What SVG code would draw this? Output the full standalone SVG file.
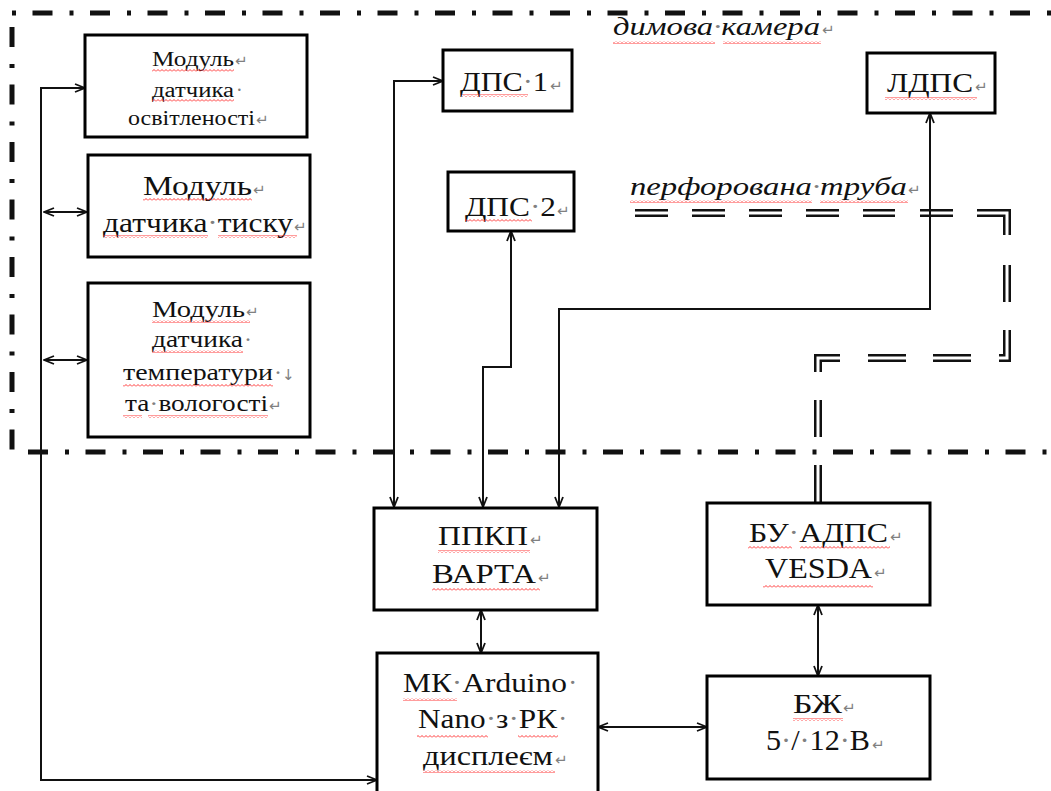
<svg xmlns="http://www.w3.org/2000/svg" width="1051" height="791" viewBox="0 0 1051 791">
<style>
.box{fill:#fff;stroke:#000;stroke-width:3}
.t{font-family:"Liberation Serif","DejaVu Serif","Times New Roman",serif;fill:#111}
.it{font-family:"Liberation Serif","DejaVu Serif","Times New Roman",serif;font-style:italic;fill:#111}
.m{fill:#808080;font-family:"DejaVu Sans",sans-serif;font-size:15px}
.d{fill:#808080}
.c{fill:none;stroke:#111;stroke-width:2}
.bd{fill:none;stroke:#111;stroke-width:5}
.po{fill:none;stroke:#111;stroke-width:8;stroke-linejoin:miter}
.pi{fill:none;stroke:#fff;stroke-width:3;stroke-linejoin:miter}
.sq{fill:url(#sqp)}
</style>
<defs>
<marker id="a" viewBox="0 0 12 10" refX="11" refY="5" markerWidth="12" markerHeight="10" markerUnits="userSpaceOnUse" orient="auto-start-reverse">
<path d="M1,1 L11,5 L1,9" fill="none" stroke="#111" stroke-width="1.8"/>
</marker>
<pattern id="sqp" width="4" height="3" patternUnits="userSpaceOnUse">
<path d="M0,2.5 L2,0.5 L4,2.5" fill="none" stroke="#f22" stroke-width="0.9"/>
</pattern>
</defs>
<rect width="1051" height="791" fill="#fff"/>

<g id="smoke-chamber-border">
<path class="bd" d="M12,13 H1051" stroke-dasharray="4 16.5 20 17"/>
<path class="bd" d="M12,27 V450" stroke-dasharray="20 17 4 16.5"/>
<path class="bd" d="M28,452 H1051" stroke-dasharray="20 17 4 16.5"/>
</g>

<g id="perforated-pipe">
<path class="po" d="M635,213H668M692,213H725M749,213H782M806,213H839M863,213H895M920,213H953M977,213H1007V235M1007,265V302M1007,330V358H999M971,358H933M906,358H868M840,358H818V372M818,400V437M818,465V503"/>
<path class="pi" d="M635,213H668M692,213H725M749,213H782M806,213H839M863,213H895M920,213H953M977,213H1007V235M1007,265V302M1007,330V358H999M971,358H933M906,358H868M840,358H818V372M818,400V437M818,465V503"/>
</g>

<g id="connectors">
<path class="c" d="M85,88 H41 V780 H377" marker-start="url(#a)" marker-end="url(#a)"/>
<path class="c" d="M44,212 H87" marker-start="url(#a)" marker-end="url(#a)"/>
<path class="c" d="M44,360 H87" marker-start="url(#a)" marker-end="url(#a)"/>
<path class="c" d="M443,81 H394 V507" marker-start="url(#a)" marker-end="url(#a)"/>
<path class="c" d="M511,231 V367 H483 V507" marker-start="url(#a)" marker-end="url(#a)"/>
<path class="c" d="M930,113 V309 H559 V507" marker-start="url(#a)" marker-end="url(#a)"/>
<path class="c" d="M481,610 V653" marker-start="url(#a)" marker-end="url(#a)"/>
<path class="c" d="M598,727 H707" marker-start="url(#a)" marker-end="url(#a)"/>
<path class="c" d="M818,605 V676" marker-start="url(#a)" marker-end="url(#a)"/>
</g>

<g id="label-chamber">
<text class="it" x="613" y="35" font-size="26" textLength="207" lengthAdjust="spacingAndGlyphs">димова<tspan class="d">·</tspan>камера</text>
<text class="m" x="822" y="35">↵</text>
<rect class="sq" x="613" y="41" width="102" height="3"/><rect class="sq" x="723" y="41" width="98" height="3"/>
</g>
<g id="label-pipe">
<text class="it" x="630" y="195" font-size="26" textLength="277" lengthAdjust="spacingAndGlyphs">перфорована<tspan class="d">·</tspan>труба</text>
<text class="m" x="908" y="195" font-size="11">↵</text>
<rect class="sq" x="630" y="200" width="182" height="3"/><rect class="sq" x="820" y="200" width="88" height="3"/>
</g>

<g id="light-sensor">
<rect class="box" x="85" y="35" width="222" height="102"/>
<text class="t" x="152" y="66" font-size="20" textLength="82" lengthAdjust="spacingAndGlyphs">Модуль</text>
<text class="m" x="235" y="66">↵</text>
<text class="t" x="152" y="97" font-size="20" textLength="82" lengthAdjust="spacingAndGlyphs">датчика</text>
<text class="t d" x="236" y="97" font-size="20">·</text>
<text class="t" x="128" y="125" font-size="20" textLength="127" lengthAdjust="spacingAndGlyphs">освітленості</text>
<text class="m" x="256" y="125">↵</text>
<rect class="sq" x="152" y="69" width="82" height="3"/><rect class="sq" x="152" y="99" width="82" height="3"/>
</g>

<g id="pressure-sensor">
<rect class="box" x="88" y="155" width="222" height="102"/>
<text class="t" x="143" y="195" font-size="27" textLength="109" lengthAdjust="spacingAndGlyphs">Модуль</text>
<text class="m" x="253" y="195">↵</text>
<text class="t" x="103" y="232" font-size="27" textLength="190" lengthAdjust="spacingAndGlyphs">датчика<tspan class="d">·</tspan>тиску</text>
<text class="m" x="294" y="232">↵</text>
<rect class="sq" x="143" y="198" width="109" height="3"/><rect class="sq" x="103" y="235" width="105" height="3"/><rect class="sq" x="218" y="235" width="79" height="3"/>
</g>

<g id="temp-humidity-sensor">
<rect class="box" x="88" y="283" width="222" height="154"/>
<text class="t" x="152" y="317" font-size="24" textLength="93" lengthAdjust="spacingAndGlyphs">Модуль</text>
<text class="m" x="246" y="317">↵</text>
<text class="t" x="152" y="347" font-size="24" textLength="91" lengthAdjust="spacingAndGlyphs">датчика</text>
<text class="t d" x="244" y="347" font-size="24">·</text>
<text class="t" x="123" y="380" font-size="24" textLength="150" lengthAdjust="spacingAndGlyphs">температури</text>
<text class="t d" x="274" y="380" font-size="24">·</text>
<text class="m" x="282" y="380">↓</text>
<text class="t" x="125" y="411" font-size="24" textLength="143" lengthAdjust="spacingAndGlyphs">та<tspan class="d">·</tspan>вологості</text>
<text class="m" x="269" y="411">↵</text>
<rect class="sq" x="152" y="320" width="98" height="3"/><rect class="sq" x="152" y="350" width="91" height="3"/><rect class="sq" x="123" y="384" width="150" height="3"/><rect class="sq" x="123" y="415" width="19" height="3"/><rect class="sq" x="148" y="415" width="120" height="3"/>
</g>

<g id="dps1">
<rect class="box" x="443" y="50" width="129" height="61"/>
<text class="t" x="460" y="91" font-size="28" textLength="88" lengthAdjust="spacingAndGlyphs">ДПС<tspan class="d">·</tspan>1</text>
<text class="m" x="550" y="91">↵</text>
<rect class="sq" x="462" y="94" width="66" height="3"/>
</g>

<g id="dps2">
<rect class="box" x="448" y="172" width="126" height="59"/>
<text class="t" x="465" y="216" font-size="28" textLength="91" lengthAdjust="spacingAndGlyphs">ДПС<tspan class="d">·</tspan>2</text>
<text class="m" x="557" y="216">↵</text>
<rect class="sq" x="465" y="219" width="67" height="3"/>
</g>

<g id="ldps">
<rect class="box" x="867" y="53" width="128" height="60"/>
<text class="t" x="887" y="92" font-size="28" textLength="86" lengthAdjust="spacingAndGlyphs">ЛДПС</text>
<text class="m" x="975" y="92">↵</text>
<rect class="sq" x="885" y="97" width="92" height="3"/>
</g>

<g id="ppkp">
<rect class="box" x="374" y="508" width="223" height="102"/>
<text class="t" x="438" y="545" font-size="28" textLength="90" lengthAdjust="spacingAndGlyphs">ППКП</text>
<text class="m" x="530" y="545">↵</text>
<text class="t" x="432" y="583" font-size="28" textLength="104" lengthAdjust="spacingAndGlyphs">ВАРТА</text>
<text class="m" x="538" y="583">↵</text>
<rect class="sq" x="438" y="550" width="92" height="3"/><rect class="sq" x="432" y="588" width="108" height="3"/>
</g>

<g id="mcu">
<rect class="box" x="377" y="653" width="221" height="150"/>
<text class="t" x="403" y="692" font-size="28" textLength="164" lengthAdjust="spacingAndGlyphs">МК<tspan class="d">·</tspan>Arduino</text>
<text class="t d" x="568" y="692" font-size="28">·</text>
<text class="t" x="418" y="728" font-size="28" textLength="139" lengthAdjust="spacingAndGlyphs">Nano<tspan class="d">·</tspan>з<tspan class="d">·</tspan>РК</text>
<text class="t d" x="558" y="728" font-size="28">·</text>
<text class="t" x="423" y="765" font-size="28" textLength="130" lengthAdjust="spacingAndGlyphs">дисплеєм</text>
<text class="m" x="555" y="765">↵</text>
<rect class="sq" x="403" y="698" width="54" height="3"/><rect class="sq" x="417" y="735" width="71" height="3"/><rect class="sq" x="518" y="735" width="40" height="3"/><rect class="sq" x="423" y="770" width="132" height="3"/>
</g>

<g id="vesda-control">
<rect class="box" x="707" y="503" width="223" height="102"/>
<text class="t" x="749" y="542" font-size="28" textLength="139" lengthAdjust="spacingAndGlyphs">БУ<tspan class="d">·</tspan>АДПС</text>
<text class="m" x="890" y="542">↵</text>
<text class="t" x="765" y="578" font-size="30" textLength="107" lengthAdjust="spacingAndGlyphs">VESDA</text>
<text class="m" x="874" y="578">↵</text>
<rect class="sq" x="748" y="546" width="44" height="3"/><rect class="sq" x="800" y="546" width="90" height="3"/><rect class="sq" x="763" y="585" width="110" height="3"/>
</g>

<g id="power-supply">
<rect class="box" x="707" y="676" width="223" height="103"/>
<text class="t" x="793" y="713" font-size="28" textLength="49" lengthAdjust="spacingAndGlyphs">БЖ</text>
<text class="m" x="843" y="713">↵</text>
<text class="t" x="766" y="750" font-size="30" textLength="104" lengthAdjust="spacingAndGlyphs">5<tspan class="d">·</tspan>/<tspan class="d">·</tspan>12<tspan class="d">·</tspan>В</text>
<text class="m" x="872" y="750">↵</text>
<rect class="sq" x="793" y="718" width="50" height="3"/>
</g>
</svg>
